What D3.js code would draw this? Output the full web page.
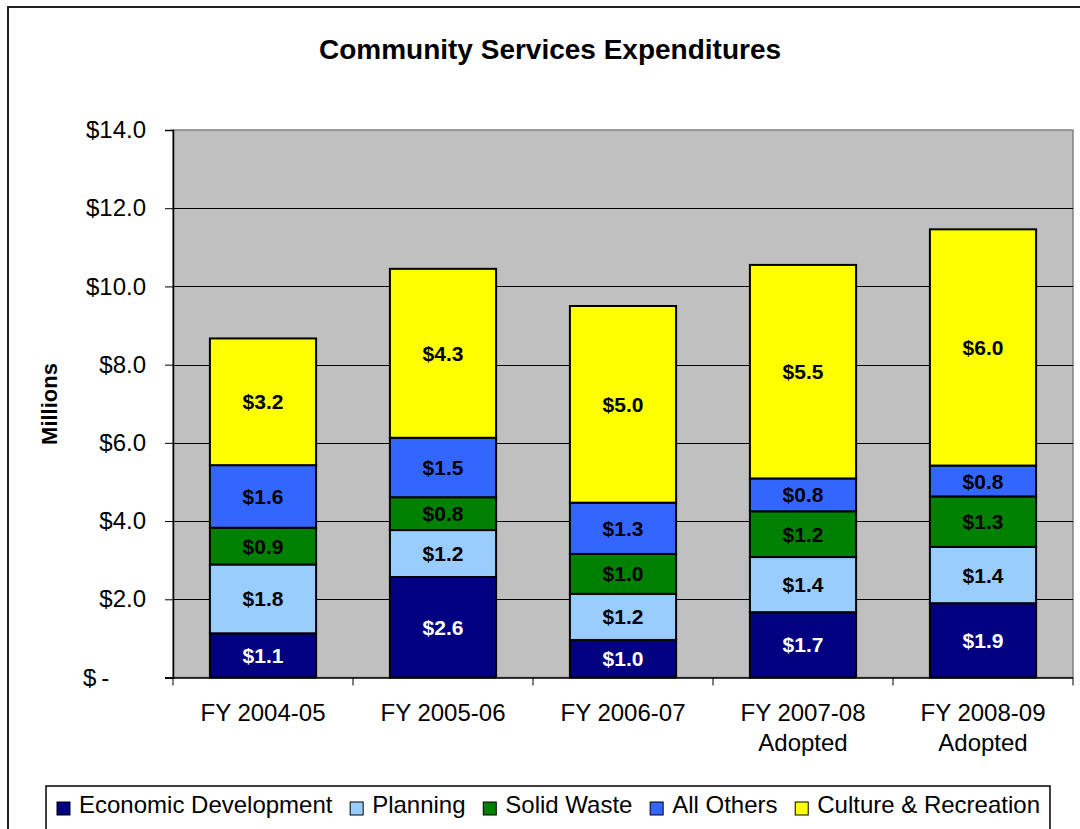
<!DOCTYPE html>
<html>
<head>
<meta charset="utf-8">
<script src="https://cdn.jsdelivr.net/npm/d3@7"></script>
<style>
  html, body { margin: 0; padding: 0; background: #fff; }
  svg { display: block; font-family: "Liberation Sans", Arial, sans-serif; }
</style>
</head>
<body>
<svg id="chart" width="1080" height="829"></svg>
<script>
// Fiscal years (each label may wrap onto two lines)
const categories = ["FY 2004-05", "FY 2005-06", "FY 2006-07", "FY 2007-08 Adopted", "FY 2008-09 Adopted"];
const categoryLines = [["FY 2004-05"], ["FY 2005-06"], ["FY 2006-07"], ["FY 2007-08", "Adopted"], ["FY 2008-09", "Adopted"]];

// Expenditures by program, in millions of dollars
const economicDevelopment = [1.13, 2.57, 0.96, 1.67, 1.90];
const planning            = [1.76, 1.20, 1.18, 1.41, 1.44];
const solidWaste          = [0.94, 0.84, 1.02, 1.17, 1.29];
const allOthers           = [1.60, 1.52, 1.31, 0.84, 0.79];
const cultureRecreation   = [3.24, 4.32, 5.03, 5.46, 6.04];

const seriesNames = ["Economic Development", "Planning", "Solid Waste", "All Others", "Culture & Recreation"];
const seriesColors = ["#000080", "#99CCFF", "#008000", "#3366FF", "#FFFF00"];
const labelColors = ["#FFFFFF", "#000000", "#000000", "#000000", "#000000"];
const seriesValues = [economicDevelopment, planning, solidWaste, allOthers, cultureRecreation];

const yTicks = [0, 2, 4, 6, 8, 10, 12, 14];

const svg = d3.select("#chart");
const W = 1080, H = 829;
const plot = { left: 173, right: 1073, top: 130, bottom: 677.5 };

// Outer chart frame
svg.append("rect")
  .attr("x", 8).attr("y", 7).attr("width", W + 20).attr("height", H + 20)
  .attr("fill", "#fff").attr("stroke", "#222").attr("stroke-width", 2);

// Title
svg.append("text")
  .attr("x", 550).attr("y", 59)
  .attr("text-anchor", "middle")
  .attr("font-size", 28).attr("font-weight", "bold")
  .text("Community Services Expenditures");

const table = categories.map((c, i) => {
  const row = { category: c };
  seriesNames.forEach((s, j) => row[s] = seriesValues[j][i]);
  return row;
});

const x = d3.scaleBand()
  .domain(categories)
  .range([plot.left, plot.right])
  .paddingInner(0.41)
  .paddingOuter(0.205);

const y = d3.scaleLinear().domain([0, 14]).range([plot.bottom, plot.top]);

// Plot background
svg.append("rect")
  .attr("x", plot.left).attr("y", plot.top)
  .attr("width", plot.right - plot.left).attr("height", plot.bottom - plot.top)
  .attr("fill", "#C0C0C0").attr("stroke", "#808080").attr("stroke-width", 1.5);

// Horizontal gridlines
svg.append("g")
  .selectAll("line")
  .data(yTicks.filter(t => t > 0 && t < 14))
  .join("line")
  .attr("x1", plot.left).attr("x2", plot.right)
  .attr("y1", d => Math.round(y(d)) + 0.5).attr("y2", d => Math.round(y(d)) + 0.5)
  .attr("stroke", "#000").attr("stroke-width", 1);

// Y axis
const yAxis = svg.append("g")
  .attr("transform", `translate(${plot.left},0)`)
  .call(d3.axisLeft(y)
    .tickValues(yTicks)
    .tickSize(8)
    .tickPadding(19)
    .tickFormat(d => d === 0 ? "$-" : "$" + d.toFixed(1)));
yAxis.select(".domain").attr("stroke", "#000").attr("stroke-width", 1.5);
yAxis.selectAll(".tick line").attr("stroke", "#000");
yAxis.selectAll(".tick text")
  .attr("font-size", 24).attr("fill", "#000")
  .attr("font-family", "'Liberation Sans', Arial, sans-serif");

// Accounting-style zero: "$" flush left, dash set apart
yAxis.selectAll(".tick text")
  .filter(d => d === 0)
  .text(null)
  .attr("text-anchor", "start")
  .attr("x", -90)
  .call(t => {
    t.append("tspan").text("$");
    t.append("tspan").attr("dx", 5).text("-");
  });

// Y axis title
svg.append("text")
  .attr("transform", "translate(57,404) rotate(-90)")
  .attr("text-anchor", "middle")
  .attr("font-size", 22).attr("font-weight", "bold")
  .text("Millions");

// Stacked bars
const stack = d3.stack().keys(seriesNames);
const layers = stack(table);

const layerG = svg.append("g")
  .selectAll("g")
  .data(layers)
  .join("g")
  .attr("fill", (d, i) => seriesColors[i]);

layerG.selectAll("rect")
  .data(d => d)
  .join("rect")
  .attr("x", d => x(d.data.category))
  .attr("width", x.bandwidth())
  .attr("y", d => y(d[1]))
  .attr("height", d => y(d[0]) - y(d[1]))
  .attr("stroke", "#000").attr("stroke-width", 2);

// Value labels
layers.forEach((layer, i) => {
  svg.append("g")
    .selectAll("text")
    .data(layer)
    .join("text")
    .attr("x", d => x(d.data.category) + x.bandwidth() / 2)
    .attr("y", d => (y(d[0]) + y(d[1])) / 2)
    .attr("dy", "0.36em")
    .attr("text-anchor", "middle")
    .attr("font-size", 21).attr("font-weight", "bold")
    .attr("fill", labelColors[i])
    .text(d => "$" + (d[1] - d[0]).toFixed(1));
});

// X axis
const xAxis = svg.append("g")
  .attr("transform", `translate(0,${plot.bottom})`)
  .call(d3.axisBottom(x).tickSize(0).tickPadding(0).tickFormat(""));
xAxis.select(".domain").attr("stroke", "#000").attr("stroke-width", 1.5)
  .attr("d", `M${plot.left - 8},0.5H${plot.right}`);

// Tick marks between categories
const half = x.step() * x.paddingInner() / 2;
const boundaries = categories.map(c => x(c) - half).concat([x(categories[categories.length - 1]) + x.bandwidth() + half]);
xAxis.selectAll(".boundary")
  .data(boundaries)
  .join("line")
  .attr("class", "boundary")
  .attr("x1", d => d).attr("x2", d => d)
  .attr("y1", 0).attr("y2", 8)
  .attr("stroke", "#000");

// Category labels
xAxis.selectAll(".tick text").remove();
xAxis.selectAll(".tick").each(function(c, i) {
  const t = d3.select(this).append("text")
    .attr("fill", "#000")
    .attr("font-size", 24)
    .attr("text-anchor", "middle")
    .attr("font-family", "'Liberation Sans', Arial, sans-serif");
  categoryLines[i].forEach((line, k) => {
    t.append("tspan").attr("x", 0).attr("y", 43 + k * 30).text(line);
  });
});

// Legend
const legendBox = { x: 46, y: 786, w: 1004, h: 46 };
svg.append("rect")
  .attr("x", legendBox.x).attr("y", legendBox.y)
  .attr("width", legendBox.w).attr("height", legendBox.h)
  .attr("fill", "#fff").attr("stroke", "#000").attr("stroke-width", 1.5);

const legendStart = 57, legendEnd = 1040;
const legend = svg.append("g").attr("transform", `translate(${legendStart},813)`);
const itemGroups = [];
const itemWidths = [];
seriesNames.forEach((name, i) => {
  const g = legend.append("g");
  g.append("rect")
    .attr("x", 0).attr("y", -11)
    .attr("width", 13).attr("height", 13)
    .attr("fill", seriesColors[i]).attr("stroke", "#000").attr("stroke-width", 1);
  const txt = g.append("text")
    .attr("x", 22).attr("y", 0)
    .attr("font-size", 24)
    .text(name);
  itemGroups.push(g);
  itemWidths.push(22 + txt.node().getComputedTextLength());
});
const gap = (legendEnd - legendStart - d3.sum(itemWidths)) / (itemWidths.length - 1);
let cursor = 0;
itemGroups.forEach((g, i) => {
  g.attr("transform", `translate(${cursor},0)`);
  cursor += itemWidths[i] + gap;
});
</script>
</body>
</html>
